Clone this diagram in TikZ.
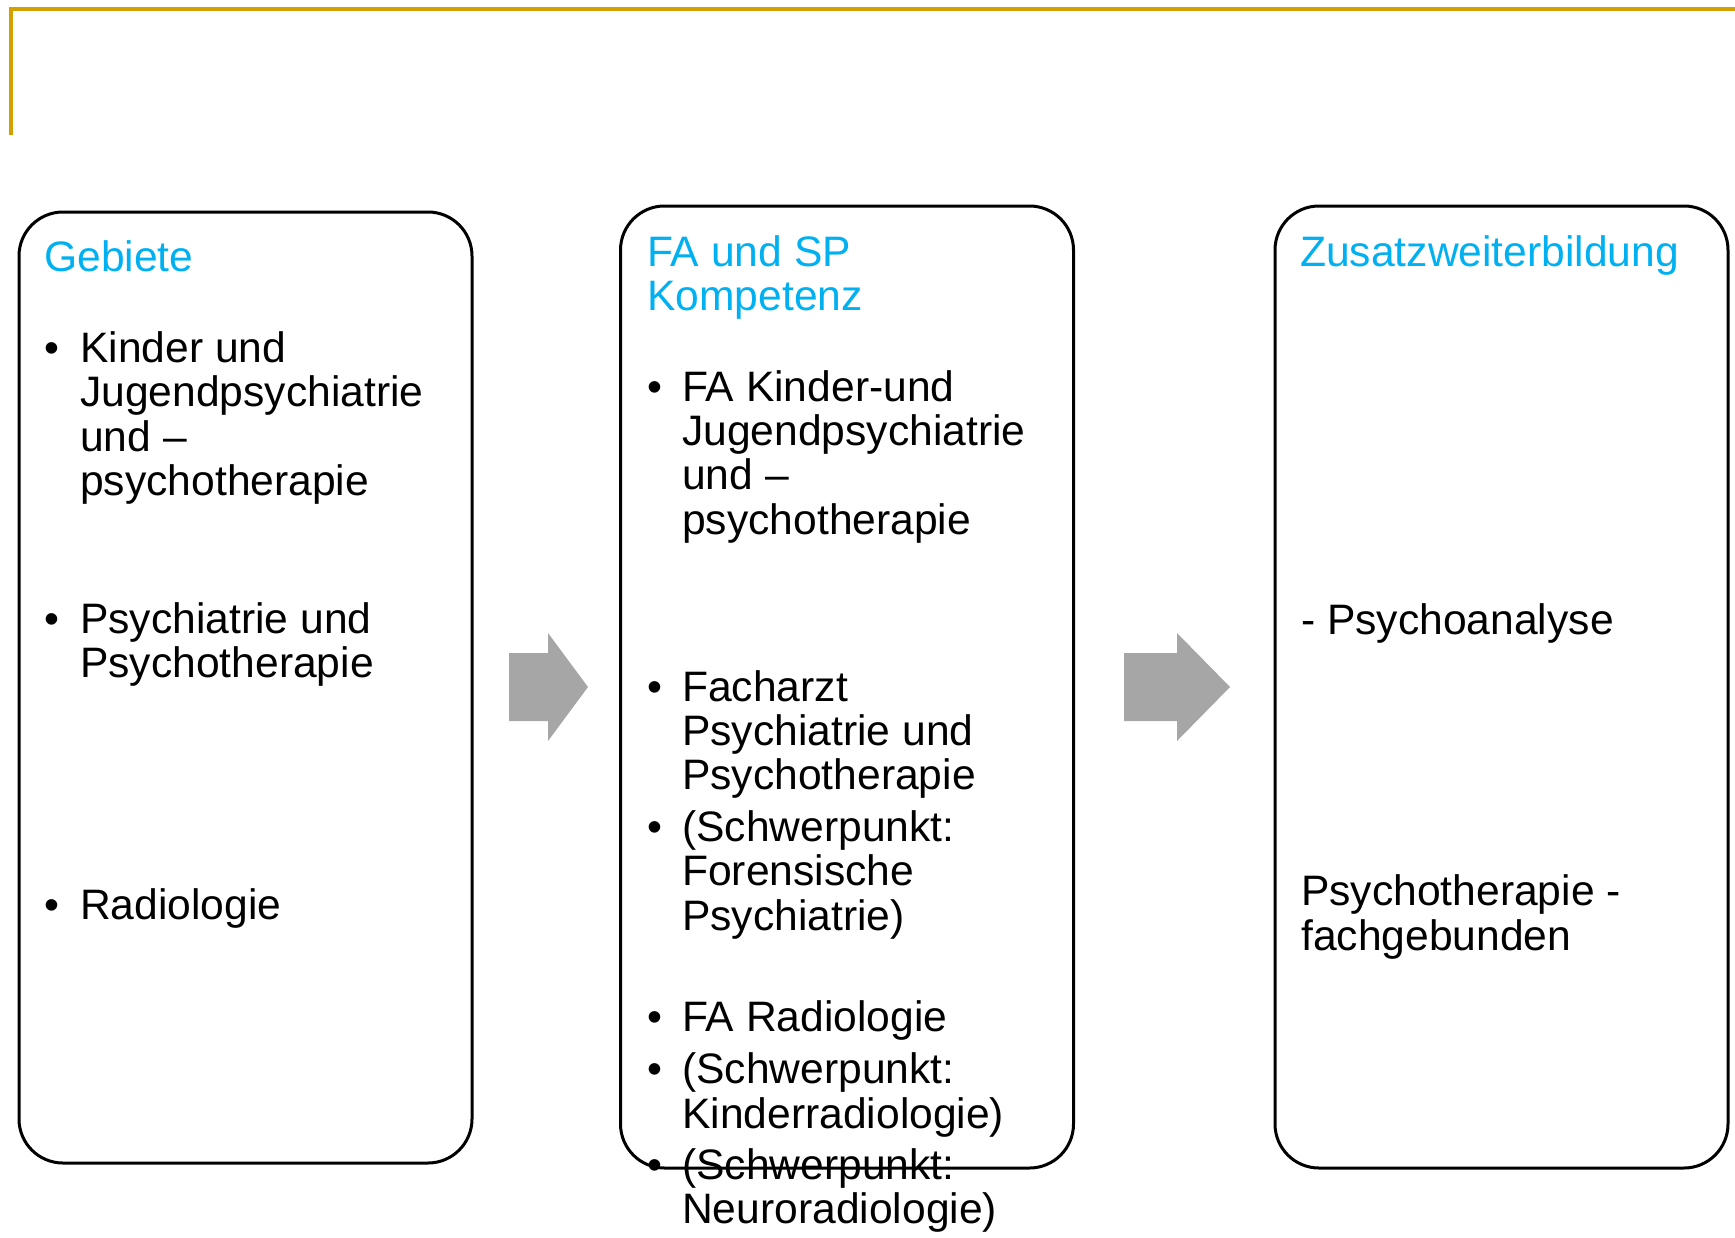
\documentclass[tikz,border=0pt]{standalone}
\usepackage{fontspec}
\setmainfont{Liberation Sans}
\usetikzlibrary{positioning}
\definecolor{gold}{RGB}{212,160,0}
\definecolor{titleblue}{RGB}{0,176,240}
\definecolor{arrowgray}{RGB}{166,166,166}

\begin{document}
\begin{tikzpicture}[x=1pt,y=-1pt]
    \tikzstyle{panel}=[draw,line width=3pt,rounded corners=44pt,minimum width=453pt,inner sep=0pt]
    \tikzstyle{txt}=[anchor=base west,inner sep=0pt,font=\fontsize{42.6}{44}\selectfont]
    \tikzstyle{head}=[txt,text=titleblue]
    \tikzstyle{blockarr}=[fill=arrowgray]

    \useasboundingbox (0,0) rectangle (1735,1237);
    \draw[gold,line width=4pt] (1735,9) -- (11,9) -- (11,135);

    % the three panels
    \node[panel,minimum height=951pt] (gebiete) at (245.5,687.5) {};
    \node[panel,minimum height=962pt] (fasp) at (847,687) {};
    \node[panel,minimum height=962pt] (zusatz) at (1501.5,687) {};

    % block arrows between the panels
    \foreach \a/\b/\c in {509/548/588, 1124/1177/1230} {
        \fill[blockarr] (\a,653) -- (\b,653) -- (\b,633) -- (\c,687) -- (\b,741) -- (\b,721) -- (\a,721) -- cycle;
    }

    \begin{scope}
        \node[head] (t1) at (44,271) {Gebiete};
        \foreach \y [count=\i] in {362,633,919} {
            \node[txt] (gb\i) at (44.5,\y) {\textbullet};
        }
        \foreach \y/\t [count=\i] in {362/Kinder und, 406/Jugendpsychiatrie, 451/und –, 495/psychotherapie,
                                      633/Psychiatrie und, 677/Psychotherapie, 919/Radiologie} {
            \node[txt] (ga\i) at (80,\y) {\t};
        }
    \end{scope}

    \begin{scope}
        \node[head] (t2a) at (647,266) {FA und SP};
        \node[head] (t2b) at (647,310) {Kompetenz};
        \foreach \y [count=\i] in {401,701,841,1031,1083,1179} {
            \node[txt] (fb\i) at (647.5,\y) {\textbullet};
        }
        \foreach \y/\t [count=\i] in {401/FA Kinder-und, 445/Jugendpsychiatrie, 489/und –, 534/psychotherapie,
                                      701/Facharzt, 745/Psychiatrie und, 789/Psychotherapie,
                                      841/(Schwerpunkt:, 885/Forensische, 930/Psychiatrie),
                                      1031/FA Radiologie, 1083/(Schwerpunkt:, 1128/Kinderradiologie),
                                      1179/(Schwerpunkt:, 1223/Neuroradiologie)} {
            \node[txt] (fa\i) at (682,\y) {\t};
        }
    \end{scope}

    \begin{scope}
        \node[head] (t3) at (1300,266) {Zusatzweiterbildung};
        \node[txt] (za1) at (1301,634) {- Psychoanalyse};
        \node[txt] (za2) at (1301,905) {Psychotherapie -};
        \node[txt] (za3) at (1301,950) {fachgebunden};
    \end{scope}

\end{tikzpicture}
\end{document}
